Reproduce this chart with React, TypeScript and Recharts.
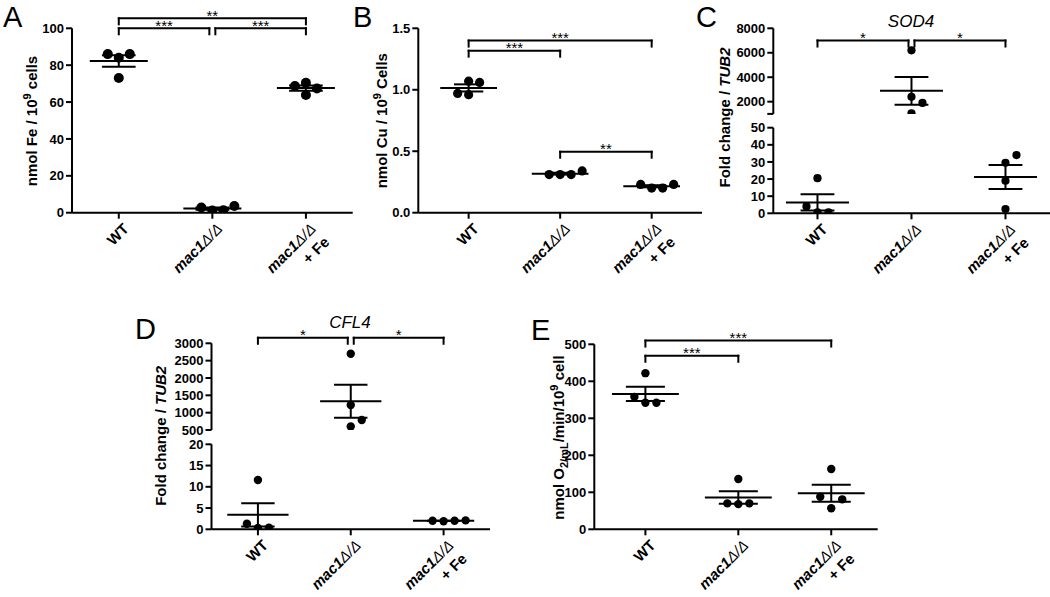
import React from 'react';
import { ComposedChart, Scatter, XAxis, YAxis, ReferenceLine, ReferenceDot } from 'recharts';

const FONT = '"Liberation Sans", Arial, Helvetica, sans-serif';
const LETTER_FONT = '"Liberation Sans", Arial, sans-serif';

// ---------------- data ----------------
const categories = ['WT', 'mac1Δ/Δ', 'mac1Δ/Δ\n+ Fe'];

// A: nmol Fe / 10^9 cells
const ironWT = [84, 86, 86, 73];
const ironMac1 = [1.2, 1.3, 2.8, 3.6];
const ironMac1Fe = [70.5, 67.4, 68.7, 63.8];
const ironTicks = [0, 20, 40, 60, 80, 100];

// B: nmol Cu / 10^9 cells
const copperWT = [1.07, 1.06, 0.96, 0.97];
const copperMac1 = [0.31, 0.31, 0.31, 0.34];
const copperMac1Fe = [0.2, 0.2, 0.23, 0.23];
const copperTicks = [0, 0.5, 1.0, 1.5];

// C: SOD4 fold change / TUB2
const sod4WT = [0.5, 0.5, 4, 20.5];
const sod4Mac1 = [6200, 2400, 1900, 1050];
const sod4Mac1Fe = [29.5, 34, 19, 2.5];
const sod4HighTicks = [1000, 2000, 4000, 6000, 8000];
const sod4LowTicks = [0, 10, 20, 30, 40, 50];

// D: CFL4 fold change / TUB2
const cfl4WT = [11.6, 0.3, 0.4, 1.3];
const cfl4Mac1 = [2700, 1220, 600, 790];
const cfl4Mac1Fe = [1.9, 2.0, 2.0, 2.1];
const cfl4HighTicks = [500, 1000, 1500, 2000, 2500, 3000];
const cfl4LowTicks = [0, 5, 10, 15, 20];

// E: O2 consumption
const oxygenWT = [422, 342, 342, 358];
const oxygenMac1 = [136, 68, 70, 70];
const oxygenMac1Fe = [163, 57, 81, 88];
const oxygenTicks = [0, 100, 200, 300, 400, 500];

// significance brackets (level in data units of the top axis segment)
const ironBrackets = [
  { from: 0, to: 2, level: 105.4, label: '**' },
  { from: 0, to: 1, level: 100, label: '***' },
  { from: 1, to: 2, level: 100, label: '***' },
];
const copperBrackets = [
  { from: 0, to: 2, level: 1.4, label: '***' },
  { from: 0, to: 1, level: 1.318, label: '***' },
  { from: 1, to: 2, level: 0.496, label: '**' },
];
const sod4Brackets = [
  { from: 0, to: 1, level: 7000, label: '*' },
  { from: 1, to: 2, level: 7000, label: '*' },
];
const cfl4Brackets = [
  { from: 0, to: 1, level: 3160, label: '*' },
  { from: 1, to: 2, level: 3160, label: '*' },
];
const oxygenBrackets = [
  { from: 0, to: 2, level: 510, label: '***' },
  { from: 0, to: 1, level: 469, label: '***' },
];

// ---------------- layout ----------------
const SLOT_PX = 11;
const MIN_GAP = 12;
const DROP_PX = 6;

const panels: any[] = [
  {
    left: 0, top: 0, width: 360, height: 300,
    x0: 72, x1: 352.7, xDomain: [-0.5, 2.5],
    segments: [{ domain: [0, 100], ticks: ironTicks, y0: 28.3, y1: 212.7 }],
    groups: [ironWT, ironMac1, ironMac1Fe], brackets: ironBrackets,
    r: 5, meanHalf: 0.31, capHalf: 0.18,
  },
  {
    left: 360, top: 0, width: 345, height: 300,
    x0: 418.3, x1: 702, xDomain: [-0.55, 2.55],
    segments: [{ domain: [0, 1.5], ticks: copperTicks, y0: 28.3, y1: 212.7, fmt: (v: number) => v.toFixed(1) }],
    groups: [copperWT, copperMac1, copperMac1Fe], brackets: copperBrackets,
    r: 4.6, meanHalf: 0.31, capHalf: 0.16,
  },
  {
    left: 705, top: 0, width: 360, height: 300,
    x0: 773.3, x1: 1055.3, xDomain: [-0.47, 2.53],
    segments: [
      { domain: [1000, 8000], ticks: sod4HighTicks, y0: 28.3, y1: 113.9, fmt: (v: number) => (v === 1000 ? '' : String(v)) },
      { domain: [0, 50], ticks: sod4LowTicks, y0: 127.7, y1: 213.3 },
    ],
    groups: [sod4WT, sod4Mac1, sod4Mac1Fe], brackets: sod4Brackets,
    r: 4.1, meanHalf: 0.335, capHalf: 0.18,
  },
  {
    left: 130, top: 300, width: 370, height: 297,
    x0: 211.5, x1: 490, xDomain: [-0.5, 2.5],
    segments: [
      { domain: [500, 3000], ticks: cfl4HighTicks, y0: 343.3, y1: 430 },
      { domain: [0, 20], ticks: cfl4LowTicks, y0: 444.3, y1: 529.3 },
    ],
    groups: [cfl4WT, cfl4Mac1, cfl4Mac1Fe], brackets: cfl4Brackets,
    r: 4.2, meanHalf: 0.33, capHalf: 0.18,
  },
  {
    left: 500, top: 300, width: 390, height: 297,
    x0: 594.3, x1: 877.7, xDomain: [-0.55, 2.5],
    segments: [{ domain: [0, 500], ticks: oxygenTicks, y0: 344.3, y1: 529.3 }],
    groups: [oxygenWT, oxygenMac1, oxygenMac1Fe], brackets: oxygenBrackets,
    r: 4.2, meanHalf: 0.36, capHalf: 0.21,
  },
];

const yTitles = [
  { x: 36.5, y: 121, parts: [{ t: 'nmol Fe / 10' }, { t: '9', sup: true }, { t: ' cells' }] },
  { x: 387, y: 120.7, parts: [{ t: 'nmol Cu / 10' }, { t: '9', sup: true }, { t: ' Cells' }] },
  { x: 730, y: 117.5, parts: [{ t: 'Fold change / ' }, { t: 'TUB2', italic: true }] },
  { x: 166, y: 435.8, parts: [{ t: 'Fold change / ' }, { t: 'TUB2', italic: true }] },
  { x: 564, y: 437.5, parts: [{ t: 'nmol O' }, { t: '2/mL', sub: true }, { t: '/min/10' }, { t: '9', sup: true }, { t: ' cell' }] },
];

const letters = [
  { t: 'A', x: 3, y: 27 },
  { t: 'B', x: 353, y: 27 },
  { t: 'C', x: 696, y: 27 },
  { t: 'D', x: 135, y: 339 },
  { t: 'E', x: 531, y: 340 },
];

const geneTitles = [
  { t: 'SOD4', x: 911, y: 26.7 },
  { t: 'CFL4', x: 350, y: 328 },
];

// ---------------- helpers ----------------
function meanOf(v: number[]) {
  return v.reduce((a, b) => a + b, 0) / v.length;
}
function semOf(v: number[]) {
  const m = meanOf(v);
  const ss = v.reduce((a, b) => a + (b - m) * (b - m), 0);
  return Math.sqrt(ss / (v.length - 1)) / Math.sqrt(v.length);
}
function swarm(values: number[], pxPerY: number) {
  const placed: { slot: number; py: number }[] = [];
  const order = [0, 1, -1, 2, -2, 3, -3];
  return values.map((v) => {
    const py = v * pxPerY;
    const slot = order.find((s) => !placed.some((p) => p.slot === s && Math.abs(p.py - py) < MIN_GAP));
    const sl = slot === undefined ? 0 : slot;
    placed.push({ slot: sl, py });
    return sl;
  });
}

function splitLabel(ln: string) {
  const idx = ln.indexOf('Δ');
  if (idx < 0) return ln;
  return [
    <tspan key="a" fontStyle="italic">{ln.slice(0, idx)}</tspan>,
    <tspan key="b" fontStyle="italic" fontWeight={400}>{ln.slice(idx)}</tspan>,
  ];
}

function makeCatTick(axisY: number) {
  return (props: any) => {
    const { x, payload } = props;
    const label = categories[payload.value] || '';
    const lines = label.split('\n');
    return (
      <g transform={`translate(${x + 11},${axisY + 17}) rotate(-45)`}>
        <text x={0} y={0} textAnchor="end" fontSize={15} fontWeight={700} fontFamily={FONT} fill="#000">
          {lines.map((ln, i) => (
            <tspan key={i} x={0} dy={i === 0 ? 0 : 19}>
              {splitLabel(ln)}
            </tspan>
          ))}
        </text>
      </g>
    );
  };
}

function renderParts(parts: any[]) {
  let shift = 0;
  return parts.map((p, i) => {
    const target = p.sup ? -6 : p.sub ? 4 : 0;
    const dy = target - shift;
    shift = target;
    return (
      <tspan key={i} dy={dy} fontSize={p.sup || p.sub ? 11 : 15} fontStyle={p.italic ? 'italic' : 'normal'}>
        {p.t}
      </tspan>
    );
  });
}

const seg2 = (a: number, b: number, c: number, d: number) => [
  { x: a, y: b },
  { x: c, y: d },
];

function Panel({ cfg }: any) {
  const pxX = (cfg.x1 - cfg.x0) / (cfg.xDomain[1] - cfg.xDomain[0]);
  const segs = cfg.segments;
  const pxY = (s: any) => (s.y1 - s.y0) / (s.domain[1] - s.domain[0]);
  const segIndexOf = (v: number) => {
    const i = segs.findIndex((s: any) => v >= s.domain[0] && v <= s.domain[1]);
    return i < 0 ? segs.length - 1 : i;
  };
  const segPoints: any[][] = segs.map(() => []);
  const segStats: any[][] = segs.map(() => []);
  cfg.groups.forEach((vals: number[], gi: number) => {
    const mean = meanOf(vals);
    const sem = semOf(vals);
    const si = segIndexOf(mean);
    const slots = swarm(vals, pxY(segs[si]));
    vals.forEach((v, k) => {
      segPoints[segIndexOf(v)].push({ x: gi + (slots[k] * SLOT_PX) / pxX, y: v });
    });
    segStats[si].push({ c: gi, mean, sem });
  });

  const inset = 3 / pxX;
  const bracketEnds = (b: any) => {
    const shared = (cat: number) =>
      cfg.brackets.some((o: any) => o !== b && o.level === b.level && (o.from === cat || o.to === cat));
    return [b.from + (shared(b.from) ? inset : 0), b.to - (shared(b.to) ? inset : 0)];
  };

  return (
    <>
      {segs.map((s: any, si: number) => {
        const last = si === segs.length - 1;
        const bottomSpace = cfg.top + cfg.height - s.y1;
        const drop = DROP_PX / pxY(s);
        const lineProps = { stroke: '#000', strokeWidth: 2, ifOverflow: 'visible' as const };
        const catTick = makeCatTick(s.y1 - cfg.top);
        return (
          <div key={si} style={{ position: 'absolute', left: cfg.left, top: cfg.top }}>
            <ComposedChart
              width={cfg.width}
              height={cfg.height}
              margin={{ top: s.y0 - cfg.top, right: cfg.left + cfg.width - cfg.x1, left: 0, bottom: last ? 0 : bottomSpace }}
            >
              <XAxis
                type="number"
                dataKey="x"
                domain={cfg.xDomain}
                allowDataOverflow
                ticks={[0, 1, 2]}
                interval={0}
                hide={!last}
                height={last ? bottomSpace : 0}
                tick={catTick}
                tickSize={6}
                axisLine={{ stroke: '#000', strokeWidth: 2 }}
                tickLine={{ stroke: '#000', strokeWidth: 2 }}
              />
              <YAxis
                type="number"
                dataKey="y"
                domain={s.domain}
                allowDataOverflow
                ticks={s.ticks}
                interval={0}
                width={cfg.x0 - cfg.left}
                tickSize={6}
                tickFormatter={s.fmt ? s.fmt : (v: number) => String(v)}
                tick={{ fill: '#000', fontSize: 13, fontWeight: 700, fontFamily: FONT }}
                axisLine={{ stroke: '#000', strokeWidth: 2 }}
                tickLine={{ stroke: '#000', strokeWidth: 2 }}
              />
              {segStats[si].map((st: any, k: number) => (
                <ReferenceLine key={`m${k}`} {...lineProps} segment={seg2(st.c - cfg.meanHalf, st.mean, st.c + cfg.meanHalf, st.mean)} />
              ))}
              {segStats[si].map((st: any, k: number) => (
                <ReferenceLine key={`v${k}`} {...lineProps} segment={seg2(st.c, st.mean - st.sem, st.c, st.mean + st.sem)} />
              ))}
              {segStats[si].map((st: any, k: number) => (
                <ReferenceLine key={`u${k}`} {...lineProps} segment={seg2(st.c - cfg.capHalf, st.mean + st.sem, st.c + cfg.capHalf, st.mean + st.sem)} />
              ))}
              {segStats[si].map((st: any, k: number) => (
                <ReferenceLine key={`l${k}`} {...lineProps} segment={seg2(st.c - cfg.capHalf, st.mean - st.sem, st.c + cfg.capHalf, st.mean - st.sem)} />
              ))}
              {si === 0 &&
                cfg.brackets.map((b: any, k: number) => {
                  const [a, e] = bracketEnds(b);
                  return [
                    <ReferenceLine key={`bh${k}`} {...lineProps} strokeLinecap="square" segment={seg2(a, b.level, e, b.level)} />,
                    <ReferenceLine key={`ba${k}`} {...lineProps} strokeLinecap="square" segment={seg2(a, b.level, a, b.level - drop)} />,
                    <ReferenceLine key={`be${k}`} {...lineProps} strokeLinecap="square" segment={seg2(e, b.level, e, b.level - drop)} />,
                    <ReferenceDot
                      key={`bt${k}`}
                      x={(a + e) / 2}
                      y={b.level}
                      r={0}
                      ifOverflow="visible"
                      shape={(p: any) => (
                        <text x={p.cx} y={p.cy + 2.5} textAnchor="middle" fontSize={15} fontFamily={FONT} fill="#000">
                          {b.label}
                        </text>
                      )}
                    />,
                  ];
                })}
              <Scatter
                data={segPoints[si]}
                isAnimationActive={false}
                shape={(p: any) => <circle cx={p.cx} cy={p.cy} r={cfg.r} fill="#000" />}
              />
            </ComposedChart>
          </div>
        );
      })}
    </>
  );
}

export default function App() {
  return (
    <div style={{ position: 'absolute', left: 0, top: 0, width: 1050, height: 597, overflow: 'hidden', background: '#fff' }}>
      {panels.map((p, i) => (
        <Panel key={i} cfg={p} />
      ))}
      <svg width={1050} height={597} style={{ position: 'absolute', left: 0, top: 0, pointerEvents: 'none' }}>
        {letters.map((l) => (
          <text key={l.t} x={l.x} y={l.y} fontSize={29} fontFamily={LETTER_FONT} fill="#000">
            {l.t}
          </text>
        ))}
        {geneTitles.map((g) => (
          <text key={g.t} x={g.x} y={g.y} fontSize={17} fontStyle="italic" textAnchor="middle" fontFamily={FONT} fill="#000">
            {g.t}
          </text>
        ))}
        {yTitles.map((yt, i) => (
          <text
            key={i}
            x={yt.x}
            y={yt.y}
            transform={`rotate(-90, ${yt.x}, ${yt.y})`}
            textAnchor="middle"
            fontSize={15}
            fontWeight={700}
            fontFamily={FONT}
            fill="#000"
          >
            {renderParts(yt.parts)}
          </text>
        ))}
      </svg>
    </div>
  );
}
